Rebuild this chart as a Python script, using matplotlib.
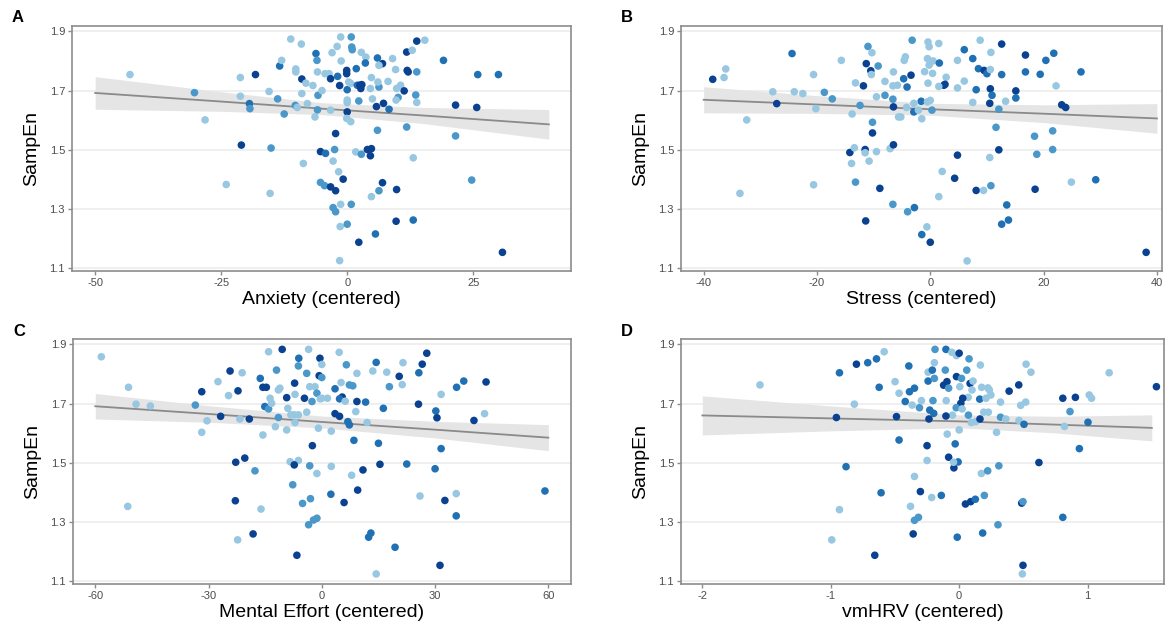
import numpy as np
import matplotlib
matplotlib.use("Agg")
import matplotlib.pyplot as plt

plt.rcParams['font.family'] = ['Liberation Sans', 'DejaVu Sans']

# ---------------- data ----------------
yticks = [1.1, 1.3, 1.5, 1.7, 1.9]

# Panel A: Anxiety
anx_x = [-43.1, -30.3, -28.2, -24.0, -21.2, -21.2, -21.0, -19.4, -19.3, -18.2, -15.5, -15.1, -15.3, -13.8, -13.4,
         -13.0, -12.5, -11.2, -10.2, -10.2, -10.3, -9.9, -9.1, -9.0, -9.0, -8.2, -8.7, -7.9, -6.8, -6.4, -6.2,
         -6.0, -5.9, -5.8, -5.9, -5.3, -5.3,
         -1.3, 0.8, 0.9, 1.0, -2.0, -3.0, -1.2, 2.8, 3.7, 3.6, 6.0, 7.0, 6.3, 9.0, 11.8, 12.9, 13.8, 15.4, 19.1,
         25.9, 30.0, -4.4, -3.6, -3.3, -5.0, -1.9, -1.5, -0.1, -0.1, 0.3, 0.0, 0.7, 1.8, 2.0, 2.5, 2.7, 2.9, 4.8,
         4.6, 6.3, 6.1, 8.1, 9.6, 11.9, 12.1, 13.8, 10.6, 9.8, 11.3, 13.6, 13.8, 10.1, 9.7, 0.0, 0.0, 2.3, 5.0,
         5.8, 7.2, 8.3, 0.0, -0.1, 0.7, -3.3, 21.5, 25.7, 21.5, 6.0, 11.8, -2.3, -4.3, -2.5, -2.8, 1.7, 2.8,
         4.0, 4.8, 4.6, 13.1, -1.7, -0.8, -4.5, -3.3, -2.3, 7.0, 6.3, 4.8, 9.8, 24.7, -2.8, -2.3, -1.3, 0.8,
         -1.4, 0.0, 9.7, 13.1, 5.6, 2.3, -1.5, 30.8]
anx_y = [1.754, 1.693, 1.601, 1.383, 1.744, 1.681, 1.516, 1.656, 1.639, 1.754, 1.697, 1.506, 1.353, 1.672, 1.783,
         1.802, 1.621, 1.874, 1.773, 1.763, 1.650, 1.643, 1.857, 1.690, 1.739, 1.725, 1.454, 1.656, 1.717, 1.611,
         1.825, 1.802, 1.763, 1.684, 1.635, 1.494, 1.390,
         1.881, 1.881, 1.847, 1.838, 1.849, 1.828, 1.800, 1.829, 1.813, 1.793, 1.810, 1.791, 1.785, 1.808, 1.830,
         1.836, 1.867, 1.870, 1.802, 1.754, 1.754, 1.757, 1.757, 1.740, 1.700, 1.748, 1.717, 1.768, 1.757, 1.729,
         1.703, 1.724, 1.774, 1.718, 1.718, 1.707, 1.720, 1.744, 1.707, 1.712, 1.729, 1.731, 1.771, 1.768, 1.763,
         1.763, 1.718, 1.707, 1.699, 1.685, 1.660, 1.677, 1.668, 1.668, 1.659, 1.665, 1.672, 1.646, 1.657, 1.637,
         1.628, 1.606, 1.595, 1.634, 1.651, 1.643, 1.547, 1.566, 1.577, 1.555, 1.488, 1.501, 1.462, 1.493, 1.485,
         1.501, 1.504, 1.480, 1.473, 1.426, 1.401, 1.379, 1.375, 1.362, 1.389, 1.362, 1.342, 1.366, 1.398, 1.305,
         1.291, 1.316, 1.316, 1.241, 1.249, 1.259, 1.263, 1.216, 1.188, 1.126, 1.154]
anx_c = list("LMLLLLKDMKLMLMDLMLLLMLLLKLLLLLDMLMMKM"
             "LMMMLLLLLDDKLLKLKLDDDLLKLDKKKLDLDDKKKLLMLLLKKMLLKMLMLLLMLKKDKLLLKKMMMKDMLLMKKKLLKMKKKMLKMMMLMLMKDDKLK")

# Panel B: Stress
str_x = [-38.4, -36.4, -36.1, -32.4, -33.6, -27.8, -27.1, -24.4, -24.0, -22.5, -20.6, -20.2, -20.6, -18.7, -17.3,
         -15.7, -13.8, -13.2, -12.4, -11.8, -11.3, -11.0, -10.3, -10.5, -10.4, -9.2, -9.5, -8.0, -8.0, -10.2,
         -10.2, -14.2, -13.4, -11.5, -11.5, -10.8, -9.5, -13.9, -13.2, -8.9, -6.6, -11.4, -7.1, -6.5, -6.5,
         -6.6, -5.8, -6.6, -6.5, -5.6,
         -3.2, -0.4, -0.2, 1.5, 6.0, 8.8, 12.6, 16.8, 21.8, 20.4, 26.6, -4.4, -4.6, -0.5, 0.5, 1.6, -0.2, 4.8,
         7.5, 8.5, 9.5, 10.0, 10.6, 10.7, 12.6, 16.8, 19.4, -1.0, 0.4, -0.4, 2.8, -3.4, -4.7, -4.1, 2.4, 2.6,
         1.5, 4.8, 6.0, 8.1, 10.6, 10.9, 15.1, 15.1, 13.3, 22.2, 10.5, 12.1, 7.5, 23.2, 23.9, -1.6, -0.5, 0.0,
         -2.9, -4.2, -2.9, -2.1, 0.3, -5.2, -1.5, 11.6, 18.4, 21.6, 21.6, 18.8, 12.1, 10.5, 4.8, 2.1, 4.3, 8.1,
         9.4, 10.7, 18.5, 24.9, 29.2, 1.5, 13.5, 13.8, 12.6, -4.0, -2.8, -0.6, -1.5, 0.0, 6.5, 38.1]
str_y = [1.738, 1.744, 1.773, 1.601, 1.353, 1.696, 1.656, 1.825, 1.696, 1.690, 1.754, 1.639, 1.382, 1.694, 1.672,
         1.802, 1.621, 1.726, 1.650, 1.716, 1.791, 1.849, 1.828, 1.767, 1.754, 1.783, 1.679, 1.731, 1.684, 1.593,
         1.557, 1.491, 1.507, 1.501, 1.490, 1.462, 1.494, 1.454, 1.391, 1.370, 1.316, 1.260, 1.504, 1.517, 1.763,
         1.716, 1.718, 1.671, 1.645, 1.611,
         1.870, 1.864, 1.848, 1.859, 1.838, 1.870, 1.857, 1.820, 1.826, 1.802, 1.763, 1.814, 1.802, 1.808, 1.800,
         1.793, 1.786, 1.802, 1.808, 1.774, 1.768, 1.757, 1.771, 1.829, 1.754, 1.763, 1.755, 1.764, 1.758, 1.725,
         1.745, 1.752, 1.740, 1.712, 1.718, 1.721, 1.714, 1.709, 1.732, 1.703, 1.706, 1.684, 1.699, 1.675, 1.664,
         1.716, 1.657, 1.637, 1.660, 1.652, 1.643, 1.664, 1.662, 1.667, 1.657, 1.643, 1.628, 1.634, 1.634, 1.611,
         1.605, 1.576, 1.546, 1.564, 1.501, 1.485, 1.500, 1.474, 1.482, 1.427, 1.404, 1.363, 1.363, 1.379, 1.367,
         1.391, 1.399, 1.342, 1.314, 1.263, 1.249, 1.291, 1.305, 1.240, 1.214, 1.188, 1.125, 1.154]
str_c = list("KLLLLLKDLLLLLMMLLLMKKMLKLMLLMMKKLKLLLLMKMKLKLLLMKL"
             "MLLLDLKKDDDLLLLDLLDDKDLLDDDLLLLKDDKKLLLDKDKDLLKMLKKDLLLLDLMLLMMMMMKLKLKKLMKLDLDDDMDLDKLK")

# Panel C: Mental Effort
eff_x = [-58.4, -51.2, -51.4, -49.2, -45.4, -33.5, -31.8, -30.4, -31.8, -27.5, -26.8, -24.7, -24.3, -21.1, -22.2,
         -21.7, -19.2, -22.8, -20.4, -17.7, -22.9, -22.3, -18.2, -16.1, -15.6, -16.3, -15.6, -14.7, -15.1, -14.1,
         -13.3, -13.7, -14.1, -12.0, -11.5, -11.1, -12.3, -11.5, -10.5, -9.3, -9.0, -9.3, -8.2, -7.3, -7.1, -7.2,
         -7.1, -6.1, -6.2, -6.2, -4.6, -4.0, -4.0, -3.5, -3.2, -2.6, -1.8, -1.3, -0.5, -0.7, -0.4, -0.9, -2.5,
         -8.4, -6.2, -7.3, -3.2, -1.3, -7.7, -5.1, -3.0, -3.5, -2.2, -1.3, -6.6,
         4.6, 0.0, 0.0, 6.5, 9.3, 14.4, 13.5, 17.2, 20.5, 21.5, 21.3, 17.9, 25.7, 26.6, 27.8, 35.7, 37.6, 43.5,
         5.1, 7.3, 8.2, 3.5, 5.4, 4.7, 6.2, 9.3, 11.6, 1.5, 0.0, 16.3, 25.6, 30.2, 30.5, 31.6, 40.3, 43.1, 3.5,
         4.7, 9.0, 6.9, 7.3, 12.0, 2.5, 8.5, 15.0, 31.6, 2.5, 10.9, 15.4, 22.5, 30.0, 7.9, 9.5, 2.4, 5.9, 26.0,
         32.6, 35.6, 35.6, 59.1, 13.0, 12.4, 19.4, 31.3, 14.4]
eff_y = [1.858, 1.755, 1.353, 1.698, 1.692, 1.695, 1.740, 1.642, 1.603, 1.774, 1.657, 1.727, 1.810, 1.804, 1.743,
         1.648, 1.648, 1.502, 1.516, 1.473, 1.372, 1.240, 1.260, 1.344, 1.594, 1.785, 1.755, 1.755, 1.690, 1.682,
         1.701, 1.718, 1.875, 1.813, 1.746, 1.752, 1.622, 1.653, 1.883, 1.720, 1.684, 1.611, 1.662, 1.662, 1.731,
         1.769, 1.636, 1.853, 1.827, 1.662, 1.718, 1.671, 1.802, 1.883, 1.757, 1.707, 1.757, 1.735, 1.853, 1.794,
         1.716, 1.617, 1.558, 1.504, 1.508, 1.493, 1.490, 1.464, 1.426, 1.363, 1.379, 1.291, 1.307, 1.313, 1.188,
         1.873, 1.832, 1.788, 1.831, 1.802, 1.839, 1.810, 1.806, 1.792, 1.838, 1.764, 1.757, 1.804, 1.833, 1.870,
         1.755, 1.776, 1.773, 1.771, 1.763, 1.760, 1.750, 1.722, 1.716, 1.708, 1.707, 1.705, 1.718, 1.718, 1.684,
         1.698, 1.675, 1.652, 1.731, 1.643, 1.666, 1.666, 1.657, 1.673, 1.639, 1.628, 1.636, 1.607, 1.576, 1.566,
         1.548, 1.488, 1.476, 1.495, 1.496, 1.480, 1.458, 1.408, 1.394, 1.366, 1.388, 1.373, 1.396, 1.321, 1.405,
         1.263, 1.249, 1.215, 1.154, 1.125]
eff_c = list("LLLLLMKLLLKLKLKLKKKMKLKLLDKKDMLLLMLLLMKKLLLLLKLDMLKLMLLMLMKKLLKLLKMLMMMMMMK"
             "LLMMLDLLKLLMDKKDDKLMMDKDLKDLLDKDKLKLKKLDDLLDDDLKKDDLKDKLKLDDDDDKL")

# Panel D: vmHRV
hrv_x = [-1.551, -0.992, -0.932, -0.956, -0.932, -0.881, -0.816, -0.800, -0.712, -0.644, -0.584, -0.623, -0.608,
         -0.657, -0.499, -0.488, -0.468, -0.468,
         -0.392, -0.420, -0.387, -0.348, -0.366, -0.309, -0.294, -0.242, -0.242, -0.209, -0.193, -0.188, -0.193,
         -0.204, -0.229, -0.198, -0.235, -0.250, -0.250, -0.348, -0.302, -0.214, -0.139, -0.379, -0.348, -0.317,
         -0.358, -0.103, -0.057, -0.021, 0.000, 0.077, -0.108, -0.121, -0.095, -0.082, -0.101, -0.021, 0.018,
         0.005, 0.085, 0.108, 0.100, 0.059, 0.165, 0.070, 0.028, 0.013, -0.023, 0.023, -0.052, -0.103, 0.072,
         0.095, 0.129, 0.162, 0.160, 0.175, 0.224, 0.235, 0.247, 0.209, 0.191, 0.227, 0.322, 0.322, 0.291, 0.363,
         0.389, 0.464, 0.521, 0.559, 0.479, 0.518, 0.466, 0.505, -0.093, 0.000, -0.031, -0.082, -0.041, -0.008,
         -0.044, 0.173, 0.222, 0.309, 0.621, 0.049, 0.090, 0.126, 0.196, 0.487, 0.497, 0.302, 0.183, -0.015,
         0.497, 0.492, 0.807, 0.905, 0.863, 0.820, 1.003, 0.936, 1.013, 1.031, 1.168, 1.536, 0.807]
hrv_y = [1.763, 1.240, 1.342, 1.653, 1.804, 1.487, 1.698, 1.833, 1.838, 1.851, 1.875, 1.755, 1.399, 1.188, 1.774,
         1.656, 1.735, 1.577,
         1.827, 1.707, 1.740, 1.752, 1.695, 1.686, 1.710, 1.776, 1.806, 1.813, 1.838, 1.883, 1.785, 1.710, 1.678,
         1.667, 1.648, 1.558, 1.508, 1.454, 1.403, 1.383, 1.390, 1.353, 1.306, 1.316, 1.260, 1.883, 1.873, 1.862,
         1.870, 1.851, 1.813, 1.762, 1.774, 1.752, 1.710, 1.791, 1.785, 1.757, 1.768, 1.776, 1.746, 1.813, 1.830,
         1.721, 1.718, 1.701, 1.686, 1.682, 1.661, 1.658, 1.661, 1.636, 1.639, 1.648, 1.715, 1.755, 1.753, 1.746,
         1.729, 1.718, 1.671, 1.671, 1.705, 1.654, 1.603, 1.648, 1.742, 1.763, 1.833, 1.806, 1.694, 1.705, 1.643,
         1.630, 1.597, 1.611, 1.564, 1.519, 1.483, 1.503, 1.502, 1.464, 1.473, 1.490, 1.501, 1.361, 1.369, 1.377,
         1.390, 1.364, 1.369, 1.291, 1.263, 1.249, 1.154, 1.125, 1.718, 1.721, 1.673, 1.623, 1.637, 1.548, 1.729,
         1.718, 1.804, 1.757, 1.316]
hrv_c = list("LLLKDDLKDDLDDKLKLD"
             "DDDDLMLDLDLMMMDDKKLLKLDLMMKDLLKMMKKMLKMLKLLMLLKKMLLKMLLKDLLLLLLLLMLLKKLLLLLDLLDKKDLLMMKKKDMKMMDDKLKKMLDDLLLKD")

# Model fit lines (predicted SampEn with confidence band)
fitA_x = [-50, -25, -5, 15, 40]
fitA_y = [1.692, 1.663, 1.639, 1.616, 1.586]
fitA_lo = [1.637, 1.630, 1.619, 1.589, 1.536]
fitA_hi = [1.747, 1.696, 1.659, 1.643, 1.636]

fitB_x = [-40, -20, 0, 20, 40]
fitB_y = [1.669, 1.653, 1.637, 1.622, 1.606]
fitB_lo = [1.625, 1.623, 1.617, 1.592, 1.556]
fitB_hi = [1.713, 1.683, 1.657, 1.652, 1.656]

fitC_x = [-60, -30, 0, 30, 60]
fitC_y = [1.691, 1.665, 1.638, 1.612, 1.585]
fitC_lo = [1.648, 1.637, 1.618, 1.584, 1.541]
fitC_hi = [1.734, 1.693, 1.658, 1.640, 1.629]

fitD_x = [-2.0, -1.0, 0.0, 0.75, 1.5]
fitD_y = [1.660, 1.650, 1.640, 1.629, 1.618]
fitD_lo = [1.594, 1.608, 1.618, 1.601, 1.574]
fitD_hi = [1.726, 1.692, 1.662, 1.657, 1.662]

palette = {'L': '#98c7e2', 'M': '#4a97c9', 'D': '#2070b4', 'K': '#0a4190'}

panels = [
    dict(letter='A', xs=anx_x, ys=anx_y, cs=anx_c, fx=fitA_x, fy=fitA_y, flo=fitA_lo, fhi=fitA_hi,
         xlabel='Anxiety (centered)', xticks=[-50, -25, 0, 25], xlim=(-54.6, 44.4),
         rect=[72, 26, 571, 271]),
    dict(letter='B', xs=str_x, ys=str_y, cs=str_c, fx=fitB_x, fy=fitB_y, flo=fitB_lo, fhi=fitB_hi,
         xlabel='Stress (centered)', xticks=[-40, -20, 0, 20, 40], xlim=(-44.0, 40.9),
         rect=[681, 26, 1162, 271]),
    dict(letter='C', xs=eff_x, ys=eff_y, cs=eff_c, fx=fitC_x, fy=fitC_y, flo=fitC_lo, fhi=fitC_hi,
         xlabel='Mental Effort (centered)', xticks=[-60, -30, 0, 30, 60], xlim=(-65.9, 66.0),
         rect=[73, 339, 571, 584]),
    dict(letter='D', xs=hrv_x, ys=hrv_y, cs=hrv_c, fx=fitD_x, fy=fitD_y, flo=fitD_lo, fhi=fitD_hi,
         xlabel='vmHRV (centered)', xticks=[-2, -1, 0, 1], xlim=(-2.166, 1.595),
         rect=[681, 339, 1164, 584]),
]

W, H = 1168, 627
fig = plt.figure(figsize=(W / 100, H / 100), dpi=100)
fig.patch.set_facecolor('white')

for p in panels:
    l, t, r, b = p['rect']
    ax = fig.add_axes([l / W, 1 - b / H, (r - l) / W, (b - t) / H])
    ax.set_xlim(*p['xlim'])
    ax.set_ylim(1.091, 1.918)
    ax.set_yticks(yticks)
    ax.set_yticklabels([f'{v:.1f}' for v in yticks])
    ax.set_xticks(p['xticks'])
    ax.set_xticklabels([str(v) for v in p['xticks']])
    for v in yticks:
        ax.axhline(v, color='#ebebeb', lw=1.1, zorder=0)
    for s in ax.spines.values():
        s.set_color('#8c8c8c')
        s.set_linewidth(1.2)
    ax.tick_params(axis='both', colors='#8c8c8c', labelcolor='#4d4d4d', labelsize=8,
                   length=3, width=1.0, pad=2)
    # fitted band and line
    ax.fill_between(p['fx'], p['flo'], p['fhi'], color='#e5e5e5', lw=0, zorder=1)
    ax.plot(p['fx'], p['fy'], color='#8a8a8a', lw=1.3, zorder=2)
    cols = [palette[c] for c in p['cs']]
    ax.scatter(p['xs'], p['ys'], c=cols, s=30, lw=0, zorder=3)
    ax.set_xlabel(p['xlabel'], fontsize=14, labelpad=2)
    ax.set_ylabel('SampEn', fontsize=14, labelpad=7)
    fig.text((l - 60) / W, 1 - (t - 8) / H, p['letter'], fontsize=12, fontweight='bold',
             ha='left', va='center')

fig.savefig('out.png', dpi=100)
